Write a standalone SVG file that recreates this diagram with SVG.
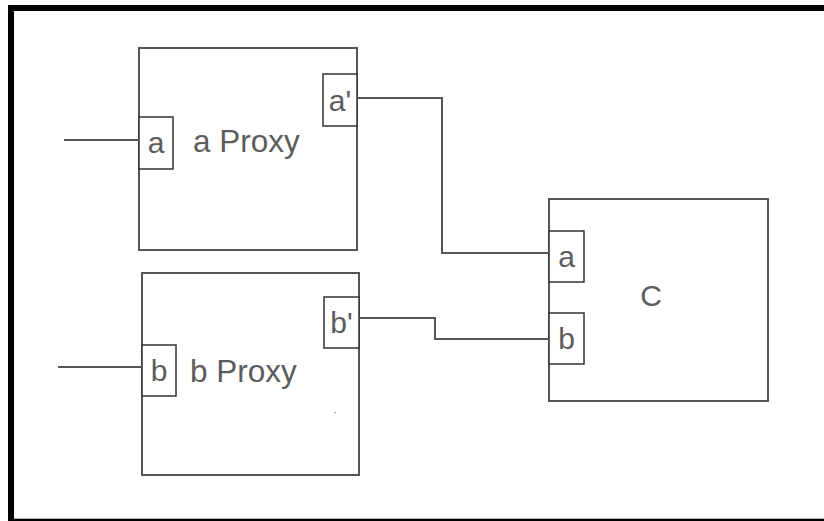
<svg xmlns="http://www.w3.org/2000/svg" width="824" height="521" viewBox="0 0 824 521">
<style>
.box{fill:#fff;stroke:#555;stroke-width:2}
.port{fill:#fff;stroke:#333;stroke-width:1.5}
.wire{fill:none;stroke:#555;stroke-width:2}
text{font-family:"Liberation Sans",Arial,sans-serif;font-size:30px;fill:#5c5c5c}
.pl{text-anchor:middle}
.nm{font-size:31.5px}
</style>
<rect x="0" y="0" width="824" height="521" fill="#fff"/>
<rect x="11" y="8" width="830" height="513.7" fill="none" stroke="#000" stroke-width="6"/>
<g id="aProxy">
<rect class="box" x="139" y="48" width="218" height="202"/>
<text class="nm" x="193" y="152">a Proxy</text>
</g>
<g id="aProxy-a">
<rect class="port" x="139" y="117" width="34" height="52"/>
<text class="pl" x="156" y="153">a</text>
</g>
<g id="aProxy-a2">
<rect class="port" x="323" y="74" width="34" height="52"/>
<text class="pl" x="340" y="111">a'</text>
</g>
<g id="bProxy">
<rect class="box" x="142" y="273" width="217" height="202"/>
<text class="nm" x="190" y="382">b Proxy</text>
<rect x="334.5" y="412" width="1.2" height="1.2" fill="#777"/>
</g>
<g id="bProxy-b">
<rect class="port" x="142" y="345" width="34" height="51"/>
<text class="pl" x="159" y="381">b</text>
</g>
<g id="bProxy-b2">
<rect class="port" x="324" y="297" width="35" height="51"/>
<text class="pl" x="341.5" y="333">b'</text>
</g>
<g id="C">
<rect class="box" x="549" y="199" width="219" height="202"/>
<text class="pl" x="651" y="306">C</text>
</g>
<g id="C-a">
<rect class="port" x="549" y="231" width="35" height="51"/>
<text class="pl" x="566.5" y="267">a</text>
</g>
<g id="C-b">
<rect class="port" x="549" y="313" width="35" height="51"/>
<text class="pl" x="566.5" y="349">b</text>
</g>
<g id="connectors">
<path class="wire" d="M64 140H139"/>
<path class="wire" d="M58 367H142"/>
<path class="wire" d="M357 98H442V253H549"/>
<path class="wire" d="M359 318H435V339H549"/>
</g>
</svg>
